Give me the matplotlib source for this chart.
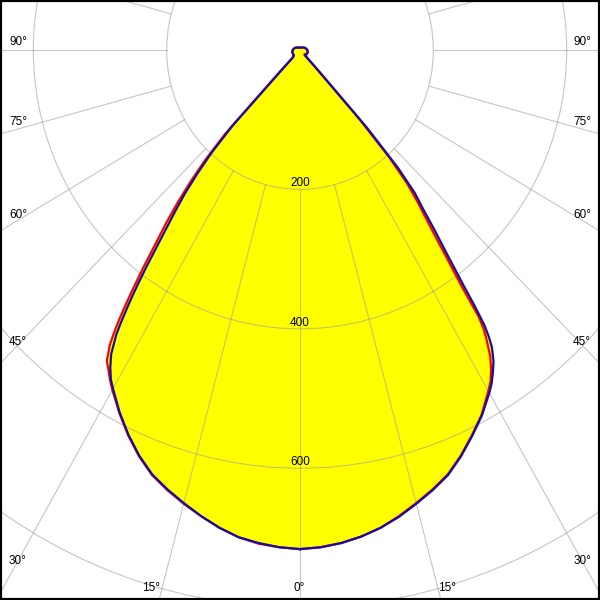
import numpy as np
import matplotlib
matplotlib.use("Agg")
import matplotlib.pyplot as plt
from matplotlib.patches import Circle

# luminous intensity (cd) vs. gamma angle (deg), two C-planes, each split in right / left half
angles = [0, 2.5, 5, 7.5, 10, 12.5, 15, 17.5, 20, 22.5, 25, 27.5, 30, 31, 32, 33, 34, 34.5, 35, 35.5,
          36, 36.5, 37, 38, 39, 40, 41, 42, 43, 44, 45, 47.5, 50, 60, 75, 90, 105, 120, 150, 180]
blue_right = [716, 714, 710, 704, 696, 686, 674, 662, 649, 631, 611, 591, 568, 558, 546, 533, 515, 501,
              483, 452, 417, 390, 366, 328, 293, 268, 224, 150, 40, 12, 11, 11, 11, 12, 12, 11, 9, 7, 4, 3.5]
blue_left = [716, 714, 710, 705, 696, 685, 673, 661, 648, 630, 609, 586, 561, 551, 537, 520, 493, 474,
             453, 432, 410, 388, 366, 328, 297, 268, 234, 198, 148, 30, 15, 13, 12, 12, 12, 11, 9, 7, 4, 3.5]
red_right = [716, 714, 710, 704, 696, 685, 673, 661, 648, 630, 610, 590, 565, 555, 541, 524, 500, 487,
             468, 423, 392, 368, 344, 308, 280, 250, 205, 130, 30, 10, 9, 10, 10, 11, 12, 11, 9, 7, 4, 3.5]
red_left = [716, 714, 711, 705, 696, 685, 674, 662, 649, 631, 610, 587, 563, 553, 542, 532, 510, 493,
            474, 453, 432, 410, 390, 350, 318, 285, 250, 213, 165, 50, 18, 14, 12, 12, 12, 11, 9, 7, 4, 3.5]

ring_values = [200, 400, 600, 800]
ring_labels = ["200", "400", "600"]
spoke_step = 15

# angle labels: (text, x_px, y_px, ha)
angle_labels = [("90°", 9, 42, "left"), ("75°", 9, 122, "left"), ("60°", 9, 215, "left"),
                ("45°", 9, 342, "left"), ("30°", 9, 561, "left"),
                ("90°", 591, 42, "right"), ("75°", 591, 122, "right"), ("60°", 591, 215, "right"),
                ("45°", 591, 342, "right"), ("30°", 591, 561, "right"),
                ("15°", 151, 588, "center"), ("0°", 299, 588, "center"), ("15°", 447, 588, "center")]

plt.rcParams["font.family"] = ["Liberation Sans", "DejaVu Sans"]

fig = plt.figure(figsize=(6, 6), dpi=100)
ax = fig.add_axes([0, 0, 1, 1])
ax.set_xlim(-450, 450)
ax.set_ylim(-789, 71.7)
ax.set_xticks([])
ax.set_yticks([])
for s in ax.spines.values():
    s.set_linewidth(3)
    s.set_color("black")


def outline(right, left):
    a = np.radians(angles)
    r = np.asarray(right, float)
    l = np.asarray(left, float)
    x = np.concatenate([r * np.sin(a), -l[::-1] * np.sin(a[::-1])])
    y = np.concatenate([-r * np.cos(a), -l[::-1] * np.cos(a[::-1])])
    return x, y


bx, by = outline(blue_right, blue_left)
rx, ry = outline(red_right, red_left)

ax.fill(rx, ry, color="#ffff00", lw=0, zorder=1)
ax.fill(bx, by, color="#ffff00", lw=0, zorder=1)

# grid
grid_kw = dict(color="#a0a0a0", alpha=0.6, lw=0.8, zorder=2)
for rv in ring_values:
    ax.add_patch(Circle((0, 0), rv, fill=False, ec="#a0a0a0", alpha=0.6, lw=0.8, zorder=2))
for g in range(0, 360, spoke_step):
    t = np.radians(g)
    ax.plot([ring_values[0] * np.sin(t), 1500 * np.sin(t)],
            [-ring_values[0] * np.cos(t), -1500 * np.cos(t)], **grid_kw)

ax.plot(rx, ry, color="#ff0000", lw=1.6, zorder=3, solid_joinstyle="round")
ax.plot(bx, by, color="#1010a8", lw=1.6, zorder=4, solid_joinstyle="round")

for lab, rv in zip(ring_labels, ring_values):
    ax.annotate(lab, (0, -rv), xytext=(0, 4.5), textcoords="offset points",
                ha="center", va="center", fontsize=8.5, zorder=5)

for txt, xp, yp, ha in angle_labels:
    ax.text(xp / 600, 1 - yp / 600, txt, transform=ax.transAxes, ha=ha, va="center",
            fontsize=8.5, zorder=5)

fig.savefig("out.png", dpi=100)
